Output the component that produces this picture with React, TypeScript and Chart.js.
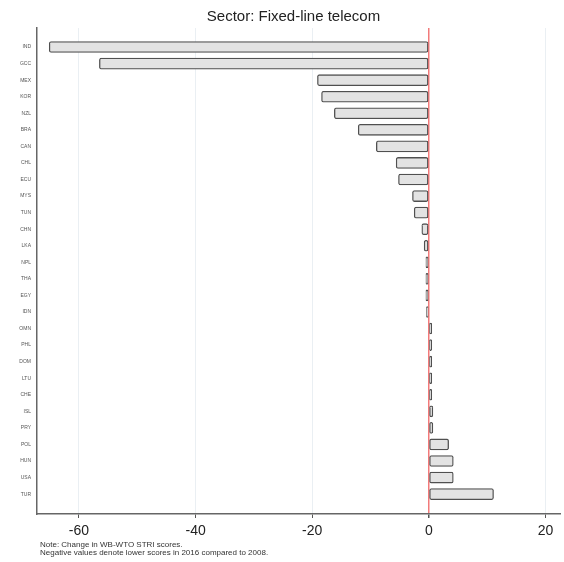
import React, { useEffect, useRef } from "react";
import { Chart, registerables } from "chart.js";

Chart.register(...registerables);

const countries = [
  "IND", "GCC", "MEX", "KOR", "NZL", "BRA", "CAN", "CHL", "ECU", "MYS",
  "TUN", "CHN", "LKA", "NPL", "THA", "EGY", "IDN", "OMN", "PHL", "DOM",
  "LTU", "CHE", "ISL", "PRY", "POL", "HUN", "USA", "TUR",
];
const changes = [
  -65.1, -56.5, -19.1, -18.4, -16.2, -12.1, -9.0, -5.6, -5.2, -2.8,
  -2.5, -1.2, -0.8, -0.5, -0.5, -0.5, -0.4, 0.5, 0.5, 0.5,
  0.5, 0.5, 0.7, 0.7, 3.4, 4.2, 4.2, 11.1,
];
const xTicks = [-60, -40, -20, 0, 20];
const titleText = "Sector: Fixed-line telecom";
const noteLines = [
  "Note: Change in WB-WTO STRI scores.",
  "Negative values denote lower scores in 2016 compared to 2008.",
];

const FONT = "'Liberation Sans', Arial, sans-serif";

export default function App() {
  const ref = useRef<HTMLCanvasElement | null>(null);
  useEffect(() => {
    if (!ref.current) return;
    const textPlugin = {
      id: "texts",
      afterDraw(chart: any) {
        const c = chart.ctx;
        const a = chart.chartArea;
        c.save();
        c.fillStyle = "#222";
        c.font = `15px ${FONT}`;
        c.textBaseline = "middle";
        c.textAlign = "center";
        c.fillText(titleText, (a.left + a.right) / 2 - 5, 17);
        c.fillStyle = "#333";
        c.font = `8px ${FONT}`;
        c.textAlign = "left";
        c.fillText(noteLines[0], 40, 545);
        c.fillText(noteLines[1], 40, 553);
        c.restore();
      },
    };
    const chart = new Chart(ref.current, {
      type: "bar",
      data: {
        datasets: [
          {
            data: changes.map((v, i) => ({ x: v, y: i })),
            backgroundColor: "#e3e3e3",
            borderColor: "#505050",
            borderWidth: 1.3,
            borderRadius: 2,
            borderSkipped: false,
            barThickness: 11,
          },
        ],
      },
      options: {
        indexAxis: "y",
        animation: false,
        responsive: false,
        maintainAspectRatio: false,
        layout: { padding: { left: 0, right: 4, top: 28, bottom: 0 } },
        plugins: {
          legend: { display: false },
          tooltip: { enabled: false },
          title: { display: false },
        },
        scales: {
          x: {
            type: "linear",
            min: -67.2,
            max: 22.5,
            afterBuildTicks: (s: any) => {
              s.ticks = xTicks.map((v) => ({ value: v }));
            },
            afterFit: (s: any) => {
              s.height = 48;
            },
            ticks: {
              color: "#222",
              font: { family: FONT, size: 14 },
              padding: 5,
            },
            grid: {
              color: (ctx: any) =>
                ctx.tick && ctx.tick.value === 0 ? "#f27a7a" : "#eaeff3",
              lineWidth: (ctx: any) => (ctx.tick && ctx.tick.value === 0 ? 1.5 : 1),
              tickColor: "#555",
              tickLength: 4,
              drawTicks: true,
            },
            border: { display: true, color: "#666", width: 1.5 },
          },
          y: {
            type: "linear",
            reverse: true,
            offset: false,
            min: -1.15,
            max: 28.2,
            afterBuildTicks: (s: any) => {
              s.ticks = countries.map((_, i) => ({ value: i }));
            },
            afterFit: (s: any) => {
              s.width = 37;
            },
            ticks: {
              color: "#555",
              font: { family: FONT, size: 5 },
              padding: 6,
              callback: (v: any) => countries[Math.round(Number(v))] ?? "",
            },
            grid: { display: false, drawTicks: false },
            border: { display: true, color: "#666", width: 1.5 },
          },
        },
      },
      plugins: [textPlugin],
    } as any);
    return () => chart.destroy();
  }, []);
  return (
    <div style={{ position: "absolute", left: 0, top: 0, width: 564, height: 562, background: "#fff" }}>
      <canvas ref={ref} width={564} height={562} style={{ width: 564, height: 562 }} />
    </div>
  );
}
